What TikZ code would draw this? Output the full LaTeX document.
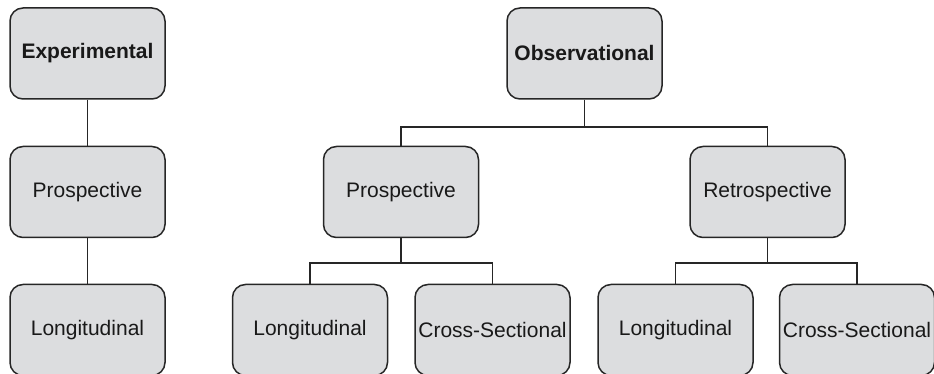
\documentclass[tikz,border=0pt]{standalone}
\usepackage{fontspec}
\setmainfont{Liberation Sans}
\usepackage{tikz}

\begin{document}
\begin{tikzpicture}[x=1pt,y=1pt,
        studybox/.style={draw=black!85, line width=1.5pt, rounded corners=13pt, fill=boxgray,
            minimum width=155pt, minimum height=91pt, inner sep=0pt, text=black!90,
            font=\fontsize{21}{25}\selectfont},
        topbox/.style={studybox, font=\fontsize{21}{25}\selectfont\bfseries},
        link/.style={draw=black!85, line width=1.7pt}]
            \definecolor{boxgray}{RGB}{220,221,223}
            \useasboundingbox (0,0) rectangle (934,374);
            \node[topbox] (exp) at (87.5,320.5) {Experimental};
            \node[studybox] (expro) at (87.5,182) {Prospective};
            \node[studybox] (exlong) at (87.5,44) {Longitudinal};
            \node[topbox] (obs) at (584.5,320.5) {Observational};
            \node[studybox] (pro) at (401,182) {Prospective};
            \node[studybox] (ret) at (767.5,182) {Retrospective};
            \node[studybox] (prolong) at (310,44) {Longitudinal};
            \node[studybox] (procross) at (492.5,44) {Cross-Sectional};
            \node[studybox] (retlong) at (675.5,44) {Longitudinal};
            \node[studybox] (retcross) at (857,44) {Cross-Sectional};
            \draw[link] (exp) -- (expro);
            \draw[link] (expro) -- (exlong);
            \draw[link] (obs.south) -- ++(0,-27) coordinate (obsbus);
            \draw[link] (pro.north) |- (obsbus) -| (ret.north);
            \draw[link] (pro.south) -- ++(0,-25) coordinate (probus);
            \draw[link] (prolong.north) |- (probus) -| (procross.north);
            \draw[link] (ret.south) -- ++(0,-25) coordinate (retbus);
            \draw[link] (retlong.north) |- (retbus) -| (retcross.north);
        \end{tikzpicture}
\end{document}
